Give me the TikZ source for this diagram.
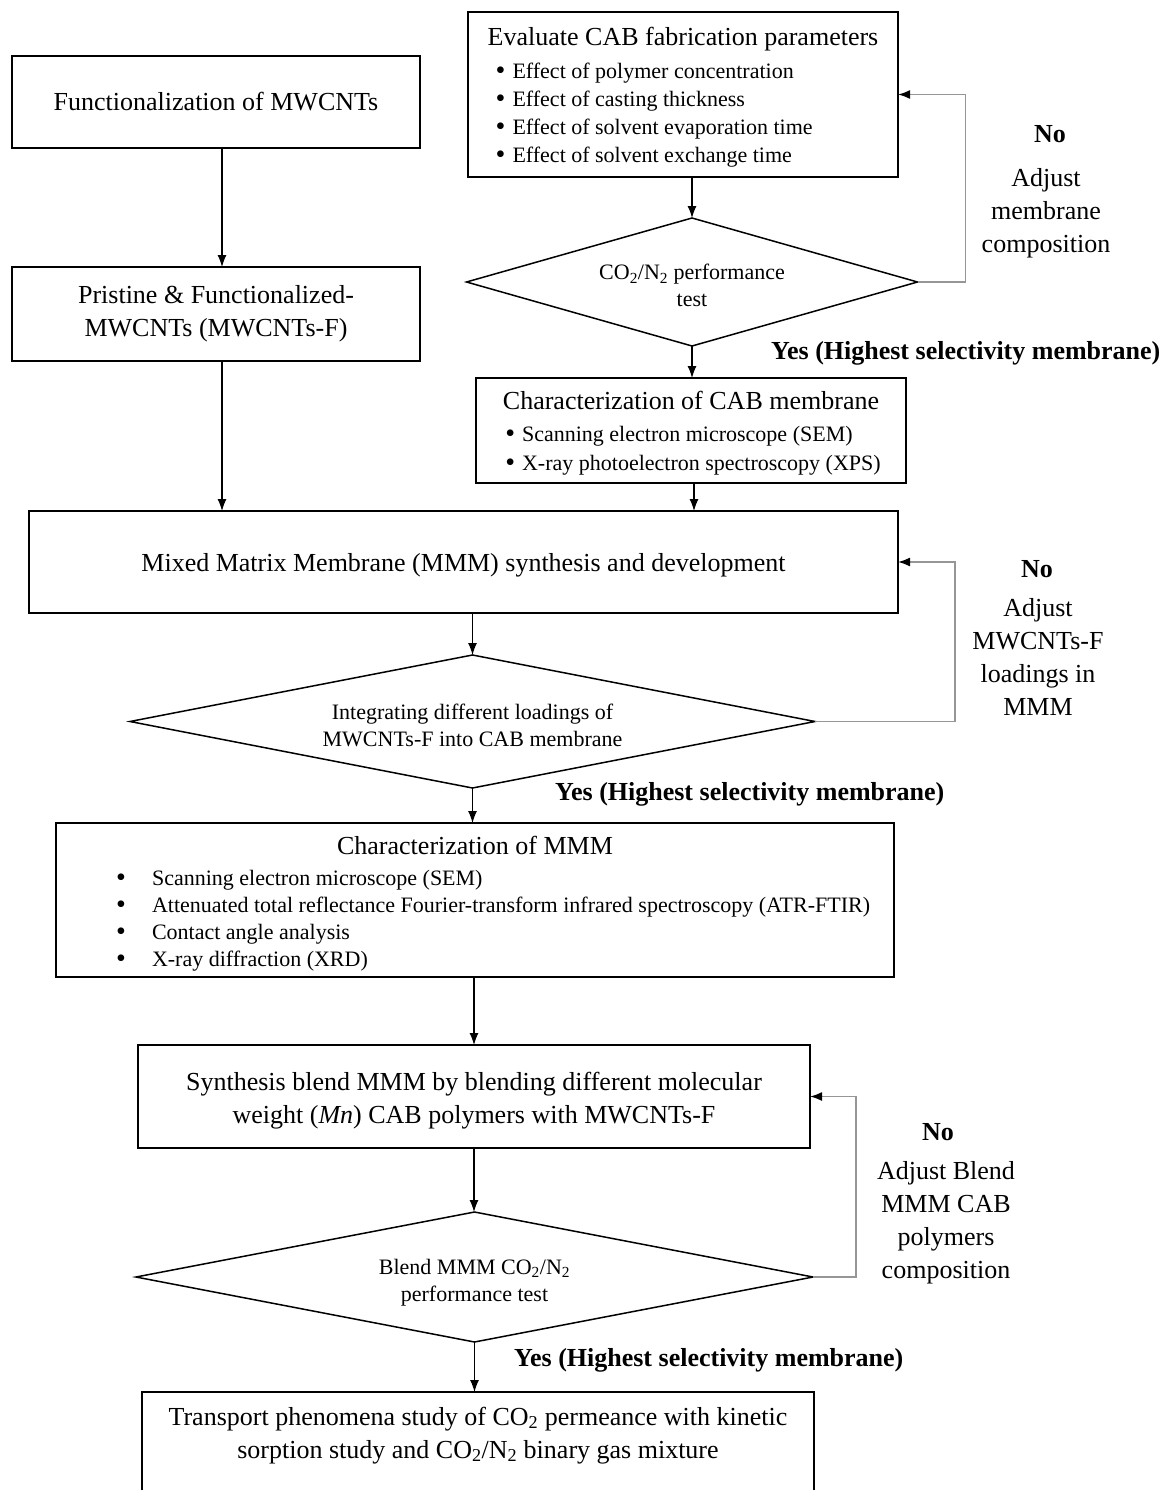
\documentclass[tikz,border=0pt]{standalone}
\usepackage{fontspec}
\setmainfont{Liberation Serif}
\usetikzlibrary{shapes.geometric,arrows.meta}
\definecolor{loopgray}{RGB}{150,150,150}

\newcommand{\bdot}{\raisebox{-1pt}[0pt][0pt]{\fontsize{28}{28}\selectfont\textbullet}}
\newcommand{\bitem}[1]{\bdot\hspace{7pt}#1}

\tikzset{
  box/.style={draw, line width=1.5pt, rectangle, inner sep=0pt, outer sep=0pt,
    align=center, font=\fontsize{26}{33}\selectfont},
  decision/.style={draw, line width=1.5pt, diamond, shape aspect=4, inner sep=0pt,
    outer sep=0pt, align=center, font=\fontsize{22}{27}\selectfont},
  flow/.style={line width=1.2pt, -{Latex[length=12pt,width=9pt]}},
  loopback/.style={loopgray, line width=1.7pt, -{Latex[length=12pt,width=9pt,color=black]}},
  note/.style={align=center, font=\fontsize{26}{33}\selectfont},
  nolabel/.style={font=\fontsize{26}{33}\selectfont\bfseries},
  yes/.style={anchor=west, inner sep=0pt, font=\fontsize{26}{33}\selectfont\bfseries}
}

\begin{document}
\begin{tikzpicture}[x=1pt, y=-1pt]

\useasboundingbox (0,0) rectangle (1169,1490);

% Left column
\node[box, minimum width=408, minimum height=92] (fun) at (216,102) {Functionalization of MWCNTs};
\node[box, minimum width=408, minimum height=94] (pris) at (216,314) {Pristine \& Functionalized-\\MWCNTs (MWCNTs-F)};

% CAB membrane
\node[box, minimum width=430, minimum height=165, font=\fontsize{22}{28}\selectfont] (eval) at (683,94.5) {%
  \begin{tabular}{@{}l@{}}
  \multicolumn{1}{@{}c@{}}{\rule{0pt}{28pt}\fontsize{26}{33}\selectfont Evaluate CAB fabrication parameters}\\[5pt]
  \hspace{8pt}\bitem{Effect of polymer concentration}\\
  \hspace{8pt}\bitem{Effect of casting thickness}\\
  \hspace{8pt}\bitem{Effect of solvent evaporation time}\\
  \hspace{8pt}\bitem{Effect of solvent exchange time}
  \end{tabular}};
\node[decision, minimum width=451, minimum height=128] (d1) at (692,282) {\rule{0pt}{23pt}CO\textsubscript{2}/N\textsubscript{2} performance\\test};
\node[box, minimum width=430, minimum height=105, font=\fontsize{22}{29}\selectfont] (cab) at (691,430.5) {%
  \begin{tabular}{@{}l@{}}
  \multicolumn{1}{@{}c@{}}{\rule{0pt}{28pt}\fontsize{26}{33}\selectfont Characterization of CAB membrane}\\[3pt]
  \hspace{4pt}\bitem{Scanning electron microscope (SEM)}\\
  \hspace{4pt}\bitem{X-ray photoelectron spectroscopy (XPS)}
  \end{tabular}};

% MMM
\node[box, minimum width=869, minimum height=102] (mmm) at (463.5,562) {\rule{0pt}{24pt}Mixed Matrix Membrane (MMM) synthesis and development};
\node[decision, minimum width=685, minimum height=133] (d2) at (472.5,721.5) {\rule{0pt}{23pt}Integrating different loadings of\\MWCNTs-F into CAB membrane};
\node[box, minimum width=838, minimum height=154, font=\fontsize{22}{27}\selectfont] (char) at (475,900) {%
  \begin{tabular}{@{\hspace{36pt}}p{36pt}@{}l@{}}
  \multicolumn{2}{@{}c@{}}{\rule{0pt}{29pt}\fontsize{26}{33}\selectfont Characterization of MMM}\\[4pt]
  \bdot & Scanning electron microscope (SEM)\\
  \bdot & Attenuated total reflectance Fourier-transform infrared spectroscopy (ATR-FTIR)\\
  \bdot & Contact angle analysis\\
  \bdot & X-ray diffraction (XRD)
  \end{tabular}};

% Blend MMM
\node[box, minimum width=672, minimum height=103] (syn) at (474,1096.5) {\rule{0pt}{26pt}Synthesis blend MMM by blending different molecular\\weight (\textit{Mn}) CAB polymers with MWCNTs-F};
\node[decision, minimum width=677, minimum height=130] (d3) at (474.5,1277) {\rule{0pt}{27pt}Blend MMM CO\textsubscript{2}/N\textsubscript{2}\\performance test};
\node[box, anchor=north, minimum width=672, inner ysep=10pt] (trans) at (478,1392) {%
  \begin{tabular}{@{}c@{}}
  Transport phenomena study of CO\textsubscript{2} permeance with kinetic\\
  sorption study and CO\textsubscript{2}/N\textsubscript{2} binary gas mixture\\[70pt]
  \end{tabular}};

% Arrows
\draw[flow] ([xshift=6pt]fun.south) -- ([xshift=6pt]pris.north);
\draw[flow] ([xshift=6pt]pris.south) -- ([xshift=6pt]pris.south |- mmm.north);
\draw[flow] (eval.south -| d1.north) -- (d1.north);
\draw[flow] (d1.south) -- (d1.south |- cab.north);
\draw[flow] ([xshift=3pt]cab.south) -- ([xshift=3pt]cab.south |- mmm.north);
\draw[flow] (mmm.south -| d2.north) -- (d2.north);
\draw[flow] (d2.south) -- (d2.south |- char.north);
\draw[flow] (char.south -| syn.north) -- (syn.north);
\draw[flow] (syn.south) -- (syn.south |- d3.north);
\draw[flow] (d3.south) -- (d3.south |- trans.north);

% Loops back
\draw[loopback] (d1.east) -- ++(48,0) |- (eval.east);
\draw[loopback] (d2.east) -- ++(140,0) |- (mmm.east);
\draw[loopback] (d3.east) -- ++(43,0) |- (syn.east);

% Labels
\node[nolabel] (no1) at (1050,134) {No};
\node[note] (adj1) at (1046,213.5) {Adjust\\membrane\\composition};
\node[yes] (yes1) at (771,353) {Yes (Highest selectivity membrane)};

\node[nolabel] (no2) at (1037,569) {No};
\node[note] (adj2) at (1038,657) {Adjust\\MWCNTs-F\\loadings in\\MMM};
\node[yes] (yes2) at (555,794) {Yes (Highest selectivity membrane)};

\node[nolabel] (no3) at (938,1132) {No};
\node[note] (adj3) at (946,1222.5) {Adjust Blend\\MMM CAB\\polymers\\composition};
\node[yes] (yes3) at (514,1360) {Yes (Highest selectivity membrane)};

\end{tikzpicture}
\end{document}
